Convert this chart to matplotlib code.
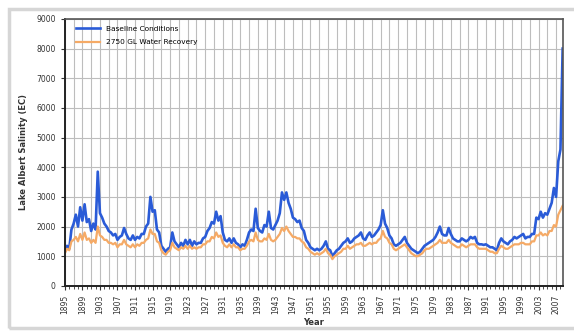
import matplotlib.pyplot as plt
import numpy as np
from matplotlib.patches import Rectangle
from matplotlib.ticker import MultipleLocator

# half-yearly salinity values (EC), one row per year: (start of year, mid-year)
baseline = [
    1150, 1350, 1250, 1900, 2100, 2400, 2000, 2650, 2200, 2750,  # 1895-1899
    2150, 2250, 1850, 2100, 1900, 3850, 2450, 2300, 2100, 2000,  # 1900-1904
    1850, 1800, 1700, 1750, 1550, 1650, 1700, 1950, 1750, 1600,  # 1905-1909
    1550, 1700, 1550, 1650, 1600, 1750, 1750, 2000, 2100, 3000,  # 1910-1914
    2500, 2550, 1900, 1800, 1350, 1250, 1150, 1250, 1300, 1800,  # 1915-1919
    1500, 1400, 1300, 1450, 1350, 1550, 1400, 1550, 1350, 1500,  # 1920-1924
    1400, 1450, 1450, 1600, 1650, 1850, 1950, 2150, 2100, 2500,  # 1925-1929
    2200, 2350, 1800, 1550, 1500, 1600, 1450, 1600, 1450, 1400,  # 1930-1934
    1300, 1400, 1350, 1550, 1800, 1900, 1850, 2600, 1950, 1850,  # 1935-1939
    1800, 2050, 2000, 2500, 1950, 1900, 2050, 2200, 2450, 3150,  # 1940-1944
    2900, 3150, 2800, 2600, 2300, 2250, 2150, 2200, 1950, 1850,  # 1945-1949
    1550, 1450, 1300, 1250, 1200, 1250, 1200, 1250, 1350, 1500,  # 1950-1954
    1250, 1200, 1000, 1100, 1200, 1250, 1350, 1450, 1500, 1600,  # 1955-1959
    1450, 1500, 1600, 1650, 1700, 1800, 1600, 1550, 1700, 1800,  # 1960-1964
    1650, 1700, 1800, 1900, 2050, 2550, 2100, 1950, 1700, 1600,  # 1965-1969
    1400, 1350, 1400, 1450, 1550, 1650, 1450, 1350, 1250, 1200,  # 1970-1974
    1150, 1100, 1150, 1250, 1350, 1400, 1450, 1500, 1550, 1650,  # 1975-1979
    1800, 2000, 1750, 1700, 1700, 1950, 1750, 1600, 1550, 1500,  # 1980-1984
    1500, 1600, 1550, 1500, 1550, 1650, 1600, 1650, 1450, 1400,  # 1985-1989
    1400, 1380, 1400, 1350, 1300, 1300, 1250, 1200, 1450, 1600,  # 1990-1994
    1500, 1450, 1400, 1500, 1550, 1650, 1600, 1650, 1700, 1750,  # 1995-1999
    1600, 1650, 1650, 1750, 1750, 2300, 2250, 2500, 2300, 2450,  # 2000-2004
    2400, 2600, 2800, 3300, 3000, 4200, 4600, 8000,              # 2005-2008
]

recovery = [
    1100, 1250, 1200, 1500, 1550, 1650, 1500, 1750, 1550, 1800,  # 1895-1899
    1550, 1600, 1450, 1550, 1450, 2000, 1700, 1650, 1550, 1550,  # 1900-1904
    1450, 1450, 1400, 1450, 1300, 1400, 1400, 1550, 1400, 1350,  # 1905-1909
    1300, 1400, 1300, 1400, 1350, 1450, 1450, 1550, 1600, 1900,  # 1910-1914
    1750, 1750, 1500, 1450, 1200, 1100, 1050, 1150, 1200, 1450,  # 1915-1919
    1300, 1250, 1200, 1300, 1250, 1350, 1250, 1350, 1250, 1300,  # 1920-1924
    1250, 1300, 1300, 1400, 1400, 1500, 1500, 1650, 1600, 1800,  # 1925-1929
    1650, 1700, 1450, 1350, 1300, 1400, 1300, 1400, 1300, 1300,  # 1930-1934
    1200, 1250, 1250, 1350, 1500, 1550, 1500, 1800, 1550, 1500,  # 1935-1939
    1500, 1600, 1550, 1750, 1550, 1500, 1550, 1650, 1750, 1950,  # 1940-1944
    1850, 2000, 1850, 1750, 1650, 1650, 1600, 1600, 1500, 1450,  # 1945-1949
    1300, 1250, 1150, 1100, 1050, 1100, 1050, 1100, 1150, 1250,  # 1950-1954
    1100, 1050, 900, 1000, 1050, 1100, 1150, 1250, 1250, 1350,   # 1955-1959
    1250, 1300, 1350, 1400, 1400, 1450, 1350, 1350, 1400, 1450,  # 1960-1964
    1400, 1450, 1450, 1550, 1600, 1850, 1650, 1600, 1450, 1400,  # 1965-1969
    1250, 1200, 1250, 1300, 1350, 1400, 1300, 1200, 1100, 1050,  # 1970-1974
    1000, 1000, 1050, 1100, 1200, 1250, 1250, 1300, 1350, 1400,  # 1975-1979
    1450, 1550, 1450, 1450, 1450, 1550, 1450, 1400, 1350, 1300,  # 1980-1984
    1300, 1400, 1350, 1300, 1350, 1400, 1400, 1400, 1300, 1250,  # 1985-1989
    1250, 1250, 1250, 1200, 1150, 1150, 1100, 1100, 1250, 1350,  # 1990-1994
    1300, 1250, 1250, 1300, 1350, 1400, 1400, 1400, 1450, 1450,  # 1995-1999
    1400, 1400, 1400, 1500, 1500, 1700, 1700, 1800, 1700, 1750,  # 2000-2004
    1700, 1850, 1850, 2050, 2000, 2400, 2550, 2700,              # 2005-2008
]

years = np.arange(len(baseline)) * 0.5 + 1895

fig = plt.figure(figsize=(5.74, 3.32), dpi=100)
ax = fig.add_axes([0.113, 0.139, 0.868, 0.804])

# light frame around the whole chart
fig.patches.append(Rectangle((0.016, 0.012), 1.0, 0.96, transform=fig.transFigure,
                             fill=False, edgecolor='#d6d6d6', linewidth=2.5))

ax.plot(years, baseline, color='#2a5bd7', linewidth=1.9, label='Baseline Conditions')
ax.plot(years, recovery, color='#f5aa66', linewidth=1.6, label='2750 GL Water Recovery')

ax.set_xlim(1895, 2008.6)
ax.set_ylim(0, 9000)
ax.set_xticks(np.arange(1895, 2008, 4))
ax.xaxis.set_minor_locator(MultipleLocator(1))
ax.set_yticks(np.arange(0, 9001, 1000))

for x in np.arange(1895, 2009, 2):
    ax.axvline(x, color='#bdbdbd', linewidth=0.8, zorder=0)
ax.yaxis.grid(True, color='#bdbdbd', linewidth=0.8)
ax.set_axisbelow(True)

ax.tick_params(axis='x', labelrotation=90, labelsize=5.5, colors='#333333',
               direction='out', length=3, width=0.8)
ax.tick_params(axis='x', which='minor', direction='out', length=2, width=0.6, color='#333333')
ax.tick_params(axis='y', labelsize=5.5, colors='#333333', direction='out', length=3, width=0.8)

for side in ['left', 'bottom']:
    ax.spines[side].set_color('#222222')
    ax.spines[side].set_linewidth(1.4)
for side in ['top', 'right']:
    ax.spines[side].set_color('#555555')
    ax.spines[side].set_linewidth(1.2)

ax.set_xlabel('Year', fontsize=6, color='#333333', fontweight='bold', labelpad=3)
ax.set_ylabel('Lake Albert Salinity (EC)', fontsize=6, color='#333333', fontweight='bold', labelpad=6)

ax.legend(loc='upper left', frameon=False, fontsize=5.3, handlelength=3.2,
          bbox_to_anchor=(0.01, 1.0), labelspacing=1.0)

fig.savefig('out.png', dpi=100)
